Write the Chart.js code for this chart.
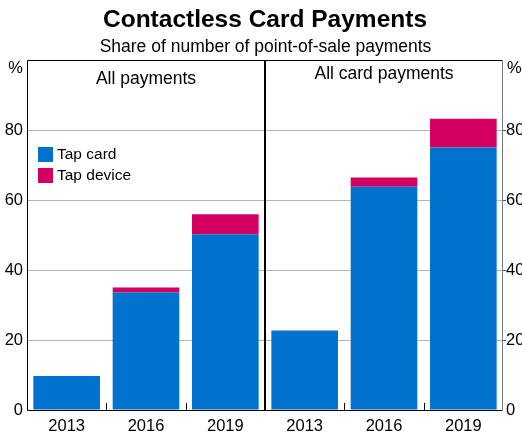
<!DOCTYPE html>
<html>
<head>
<meta charset="utf-8">
<script src="https://cdn.jsdelivr.net/npm/chart.js@4"></script>
<style>
  html, body { margin: 0; padding: 0; background: #fff; }
  #wrap { width: 522px; height: 432px; }
</style>
</head>
<body>
<div id="wrap"><canvas id="c" width="522" height="432"></canvas></div>
<script>
const categories = ['2013', '2016', '2019', '2013', '2016', '2019'];
const panelTitles = ['All payments', 'All card payments'];
const tapCard = [9.7, 33.6, 50.2, 22.7, 63.8, 75.0];
const tapDevice = [0, 1.4, 5.7, 0, 2.6, 8.2];
const yTickValues = [0, 20, 40, 60, 80, 100];
const seriesNames = ['Tap card', 'Tap device'];
const seriesColors = ['#0072ce', '#d20060'];
const chartTitle = 'Contactless Card Payments';
const chartSubtitle = 'Share of number of point-of-sale payments';

const FONT = "'Liberation Sans', Arial, sans-serif";
Chart.defaults.font.family = FONT;
Chart.defaults.color = '#000';

const decor = {
  id: 'decor',
  afterDatasetsDraw(chart) {
    const { ctx, chartArea: a, scales } = chart;
    const x = scales.x;
    const n = categories.length;
    const half = n / 2;
    const divX = (x.getPixelForValue(half - 1) + x.getPixelForValue(half)) / 2;
    const midX = (a.left + a.right) / 2;
    ctx.save();
    // titles (centred over the plot area)
    ctx.fillStyle = '#000';
    ctx.textAlign = 'center';
    ctx.textBaseline = 'middle';
    ctx.font = 'bold 24.5px ' + FONT;
    ctx.fillText(chartTitle, midX, 20.7);
    ctx.font = '17.5px ' + FONT;
    ctx.fillText(chartSubtitle, midX + 0.5, 46.7);
    // frame
    ctx.lineWidth = 1;
    ctx.strokeStyle = '#000';
    ctx.beginPath();
    ctx.moveTo(a.right - 0.5, a.top + 0.5);
    ctx.lineTo(a.left + 0.5, a.top + 0.5);
    ctx.lineTo(a.left + 0.5, a.bottom + 0.5);
    ctx.lineTo(a.right - 0.5, a.bottom + 0.5);
    ctx.stroke();
    ctx.strokeStyle = '#7a7a7a';
    ctx.beginPath();
    ctx.moveTo(a.right - 0.5, a.top + 1);
    ctx.lineTo(a.right - 0.5, a.bottom);
    ctx.stroke();
    // divider
    ctx.strokeStyle = '#000';
    ctx.lineWidth = 2;
    ctx.beginPath();
    ctx.moveTo(Math.round(divX), a.top);
    ctx.lineTo(Math.round(divX), a.bottom);
    ctx.stroke();
    // category boundary ticks (inward)
    ctx.lineWidth = 1;
    for (let i = 0; i < n - 1; i++) {
      if (i === half - 1) continue;
      const bx = Math.round((x.getPixelForValue(i) + x.getPixelForValue(i + 1)) / 2) + 0.5;
      ctx.beginPath();
      ctx.moveTo(bx, a.bottom);
      ctx.lineTo(bx, a.bottom - 7);
      ctx.stroke();
    }
    // panel titles
    ctx.fillStyle = '#000';
    ctx.font = '17.5px ' + FONT;
    ctx.textAlign = 'center';
    ctx.fillText(panelTitles[0], (a.left + divX) / 2, a.top + 19);
    ctx.fillText(panelTitles[1], (divX + a.right) / 2, a.top + 14.5);
    // % unit labels
    ctx.font = '16.5px ' + FONT;
    ctx.textAlign = 'right';
    ctx.fillText('%', a.left - 4, a.top + 8.5);
    ctx.textAlign = 'left';
    ctx.fillText('%', a.right + 4, a.top + 8.5);
    // legend
    ctx.font = '15.5px ' + FONT;
    chart.data.datasets.forEach((ds, i) => {
      const ly = a.top + 87 + i * 21;
      ctx.fillStyle = ds.backgroundColor;
      ctx.fillRect(a.left + 11, ly, 15, 15);
      ctx.fillStyle = '#000';
      ctx.textAlign = 'left';
      ctx.fillText(ds.label, a.left + 30, ly + 8);
    });
    ctx.restore();
  }
};

const tickFont = { family: FONT, size: 16.5 };

new Chart(document.getElementById('c'), {
  type: 'bar',
  data: {
    labels: categories,
    datasets: [
      { label: seriesNames[0], data: tapCard, backgroundColor: seriesColors[0], borderWidth: 0 },
      { label: seriesNames[1], data: tapDevice, backgroundColor: seriesColors[1], borderWidth: 0 }
    ]
  },
  options: {
    responsive: false,
    animation: false,
    devicePixelRatio: 1,
    layout: { padding: { top: 60, left: 0, right: 0, bottom: 0 } },
    datasets: { bar: { barPercentage: 0.84, categoryPercentage: 1 } },
    plugins: {
      legend: { display: false },
      tooltip: { enabled: false },
      title: { display: false },
      subtitle: { display: false }
    },
    scales: {
      x: {
        stacked: true,
        grid: { display: false, drawTicks: false },
        border: { display: false },
        ticks: { font: tickFont, color: '#000', padding: 7, maxRotation: 0 },
        afterFit(s) { s.height = 22; }
      },
      y: {
        stacked: true,
        position: 'left',
        min: 0, max: 100,
        afterBuildTicks(s) { s.ticks = yTickValues.map(v => ({ value: v })); },
        grid: {
          drawTicks: false,
          color: c => (c.tick && (c.tick.value === 0 || c.tick.value === 100)) ? 'rgba(0,0,0,0)' : '#b4b4b4',
          lineWidth: 1
        },
        border: { display: false },
        ticks: { font: tickFont, color: '#000', padding: 4, callback: v => v === 100 ? '' : v },
        afterFit(s) { s.width = 27; }
      },
      y2: {
        position: 'right',
        min: 0, max: 100,
        afterBuildTicks(s) { s.ticks = yTickValues.map(v => ({ value: v })); },
        grid: {
          drawOnChartArea: false,
          drawTicks: true,
          tickLength: 3,
          color: c => (c.tick && (c.tick.value === 0 || c.tick.value === 100)) ? 'rgba(0,0,0,0)' : '#555'
        },
        border: { display: false },
        ticks: { font: tickFont, color: '#000', padding: 0, callback: v => v === 100 ? '' : v },
        afterFit(s) { s.width = 19; }
      }
    }
  },
  plugins: [decor]
});
</script>
</body>
</html>
